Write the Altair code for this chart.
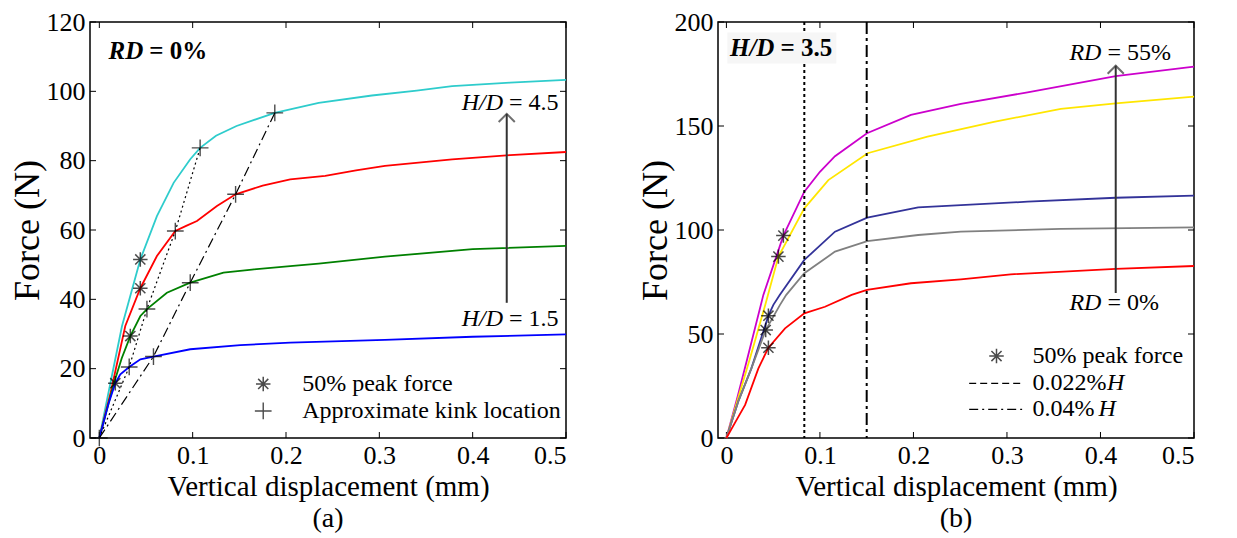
import altair as alt
import pandas as pd

FONT = "Liberation Serif"
W, H = 476, 416

# ---------------- panel (a): RD = 0% ----------------
a_x_ticks = [0, 0.1, 0.2, 0.3, 0.4, 0.5]
a_y_ticks = [0, 20, 40, 60, 80, 100, 120]

a_names = ["H/D = 4.5", "H/D = 3.5", "H/D = 2.5", "H/D = 1.5"]
a_colors = ["#2ECCCC", "#FF0000", "#008000", "#0000FF"]

cyan_x = [0, 0.006, 0.012, 0.0243, 0.0439, 0.0617, 0.0796, 0.0974, 0.108, 0.125, 0.147, 0.188, 0.235, 0.292, 0.34, 0.378, 0.44, 0.5]
cyan_y = [0, 8, 16, 32.3, 51.5, 64, 73.6, 80.4, 83.7, 87.2, 90, 93.8, 96.7, 98.8, 100.2, 101.5, 102.5, 103.3]
red_x = [0, 0.012, 0.0278, 0.0439, 0.0617, 0.0814, 0.093, 0.1046, 0.126, 0.146, 0.175, 0.2045, 0.242, 0.275, 0.306, 0.378, 0.44, 0.5]
red_y = [0, 13, 32.3, 43.2, 52.5, 59.7, 61.2, 62.6, 66.9, 70.3, 72.8, 74.6, 75.6, 77.2, 78.5, 80.4, 81.6, 82.5]
green_x = [0, 0.0153, 0.024, 0.0332, 0.044, 0.051, 0.0724, 0.0974, 0.133, 0.1635, 0.2045, 0.235, 0.306, 0.4, 0.5]
green_y = [0, 15.5, 23, 29.4, 35.2, 37.2, 41.9, 44.8, 47.7, 48.6, 49.6, 50.3, 52.3, 54.5, 55.4]
blue_x = [0, 0.01, 0.0171, 0.0225, 0.032, 0.044, 0.058, 0.0974, 0.151, 0.2045, 0.306, 0.4, 0.5]
blue_y = [0, 10, 15.8, 18.4, 20.5, 22.7, 23.5, 25.6, 26.8, 27.5, 28.3, 29.2, 29.9]

a_star_x = [0.0439, 0.0439, 0.0332, 0.0171]
a_star_y = [51.5, 43.2, 29.4, 15.8]
a_plus_x = [0.108, 0.188, 0.0814, 0.146, 0.051, 0.0974, 0.032, 0.058, 0]
a_plus_y = [83.7, 93.8, 59.7, 70.3, 37.2, 44.8, 20.5, 23.5, 0]

kink1_x = [0, 0.032, 0.051, 0.0814, 0.108]
kink1_y = [0, 20.5, 37.2, 59.7, 83.7]
kink2_x = [0, 0.058, 0.0974, 0.146, 0.188]
kink2_y = [0, 23.5, 44.8, 70.3, 93.8]

# ---------------- panel (b): H/D = 3.5 ----------------
b_x_ticks = [0, 0.1, 0.2, 0.3, 0.4, 0.5]
b_y_ticks = [0, 50, 100, 150, 200]

b_names = ["RD = 55%", "RD = 45%", "RD = 30%", "RD = 15%", "RD = 0%"]
b_colors = ["#CC00CC", "#FFE600", "#333399", "#808080", "#FF0000"]

mag_x = [0, 0.012, 0.0217, 0.0395, 0.0609, 0.0833, 0.1, 0.1161, 0.1503, 0.1973, 0.2507, 0.322, 0.4163, 0.5]
mag_y = [0, 20, 37, 68.8, 97.3, 118.4, 128, 135.5, 146.5, 155.3, 160.6, 166.2, 174, 178.5]
yel_x = [0, 0.013, 0.025, 0.0415, 0.0556, 0.0833, 0.109, 0.151, 0.215, 0.286, 0.3576, 0.4163, 0.5]
yel_y = [0, 20, 38, 64, 87.2, 110.4, 124, 136.9, 144.9, 152, 158.2, 160.9, 164.1]
navy_x = [0, 0.013, 0.0267, 0.0449, 0.0502, 0.057, 0.0833, 0.1161, 0.1506, 0.205, 0.322, 0.4163, 0.5]
navy_y = [0, 18, 33.5, 58.8, 64, 68.8, 85.6, 99.2, 105.9, 110.9, 113.6, 115.5, 116.5]
gray_x = [0, 0.013, 0.0267, 0.042, 0.0573, 0.064, 0.0833, 0.1161, 0.1506, 0.205, 0.2507, 0.3576, 0.5]
gray_y = [0, 18, 33.5, 51.9, 64, 68.8, 79.2, 89.6, 94.7, 97.6, 99.2, 100.5, 101.3]
redb_x = [0, 0.01, 0.02, 0.0342, 0.0449, 0.0627, 0.0833, 0.1054, 0.1339, 0.1503, 0.1973, 0.2507, 0.304, 0.4163, 0.5]
redb_y = [0, 8, 15.9, 33.5, 43.4, 52.7, 59.9, 63.1, 68.8, 71.2, 74.4, 76.3, 78.7, 81.3, 82.7]

b_star_x = [0.0609, 0.0556, 0.0449, 0.042, 0.0449]
b_star_y = [97.3, 87.2, 58.8, 51.9, 43.4]
b_vlines = [0.0833, 0.15]

STAR = "M0,-1L0,1M-1,0L1,0M-0.7,-0.7L0.7,0.7M-0.7,0.7L0.7,-0.7"
PLUS = "M0,-1L0,1M-1,0L1,0"
CHEVRON = "M-1,1L0,0L1,1"


def df(xs, ys, **extra):
    d = pd.DataFrame({"x": xs, "y": ys})
    for k, v in extra.items():
        d[k] = v
    return d


def encs(xdom, ydom, xt, yt):
    xe = alt.X("x:Q", scale=alt.Scale(domain=xdom, nice=False, zero=False),
               axis=alt.Axis(values=xt, format="~g", title="Vertical displacement (mm)",
                             labelPadding=4, titlePadding=4))
    ye = alt.Y("y:Q", scale=alt.Scale(domain=ydom, nice=False, zero=False),
               axis=alt.Axis(values=yt, format="d", title="Force (N)",
                             labelPadding=5, titlePadding=0))
    return xe, ye


def ticks_layers(xe, ye, xt, yt):
    tx = pd.DataFrame({"x": xt})
    ty = pd.DataFrame({"y": yt})
    L = 6
    return [
        alt.Chart(tx).mark_rule(color="black", strokeWidth=1).encode(x=xe, y=alt.value(H), y2=alt.value(H - L)),
        alt.Chart(tx).mark_rule(color="black", strokeWidth=1).encode(x=xe, y=alt.value(0), y2=alt.value(L)),
        alt.Chart(ty).mark_rule(color="black", strokeWidth=1).encode(y=ye, x=alt.value(0), x2=alt.value(L)),
        alt.Chart(ty).mark_rule(color="black", strokeWidth=1).encode(y=ye, x=alt.value(W), x2=alt.value(W - L)),
    ]


def text_layer(d, xe, ye, size=24, italic=False, bold=False, align="left", dx=0):
    props = dict(font=FONT, fontSize=size, align=align, baseline="middle", color="black")
    if italic:
        props["fontStyle"] = "italic"
    if bold:
        props["fontWeight"] = "bold"
    if dx:
        props["dx"] = dx
    return alt.Chart(d).mark_text(**props).encode(x=xe, y=ye, text="t:N")


def star_layer(d, xe, ye):
    return alt.Chart(d).mark_point(shape=STAR, size=210, filled=False, color="black",
                                   strokeWidth=1.5).encode(x=xe, y=ye)


def plus_layer(d, xe, ye):
    return alt.Chart(d).mark_point(shape=PLUS, size=280, filled=False, color="black",
                                   strokeWidth=1.4).encode(x=xe, y=ye)


# ---------------- build panel (a) ----------------
xa, ya = encs([-0.01, 0.5], [0, 120], a_x_ticks, a_y_ticks)
a_curves = pd.concat([
    df(cyan_x, cyan_y, s=a_names[0]), df(red_x, red_y, s=a_names[1]),
    df(green_x, green_y, s=a_names[2]), df(blue_x, blue_y, s=a_names[3])])

layers_a = ticks_layers(xa, ya, a_x_ticks, a_y_ticks) + [
    alt.Chart(a_curves).mark_line(strokeWidth=1.8).encode(
        x=xa, y=ya, detail="s:N",
        color=alt.Color("s:N", scale=alt.Scale(domain=a_names, range=a_colors), legend=None)),
    alt.Chart(df(kink1_x, kink1_y)).mark_line(color="black", strokeWidth=1.2, strokeDash=[2, 3]).encode(x=xa, y=ya),
    alt.Chart(df(kink2_x, kink2_y)).mark_line(color="black", strokeWidth=1.2, strokeDash=[10, 4, 2, 4]).encode(x=xa, y=ya),
    star_layer(df(a_star_x, a_star_y), xa, ya),
    plus_layer(df(a_plus_x, a_plus_y), xa, ya),
    # legend
    star_layer(df([0.1756], [15.6]), xa, ya),
    plus_layer(df([0.1756], [7.8]), xa, ya),
    text_layer(df([0.2173, 0.2173], [15.6, 7.8], t=["50% peak force", "Approximate kink location"]), xa, ya),
    # arrow
    alt.Chart(df([0.4365], [39], y2=[93.5])).mark_rule(color="#333333", strokeWidth=2).encode(x=xa, y=ya, y2="y2:Q"),
    alt.Chart(df([0.4365], [93.5])).mark_point(shape=CHEVRON, size=260, filled=False, color="#333333", strokeWidth=2).encode(x=xa, y=ya),
    # annotations
    text_layer(df([0.0471], [111.6], t=["RD"]), xa, ya, size=25, italic=True, bold=True, align="right"),
    text_layer(df([0.0471], [111.6], t=["= 0%"]), xa, ya, size=25, bold=True, dx=6),
    text_layer(df([0.4325, 0.4325], [96.6, 34.3], t=["H/D", "H/D"]), xa, ya, italic=True, align="right"),
    text_layer(df([0.4325, 0.4325], [96.6, 34.3], t=["= 4.5", "= 1.5"]), xa, ya, dx=6),
]
chart_a = alt.layer(*layers_a).properties(
    width=W, height=H,
    title=alt.TitleParams("(a)", orient="bottom", font=FONT, fontSize=28, fontWeight=400, offset=4))

# ---------------- build panel (b) ----------------
xb, yb = encs([-0.009, 0.5], [0, 200], b_x_ticks, b_y_ticks)
b_curves = pd.concat([
    df(mag_x, mag_y, s=b_names[0]), df(yel_x, yel_y, s=b_names[1]),
    df(navy_x, navy_y, s=b_names[2]), df(gray_x, gray_y, s=b_names[3]),
    df(redb_x, redb_y, s=b_names[4])])

layers_b = ticks_layers(xb, yb, b_x_ticks, b_y_ticks) + [
    alt.Chart(b_curves).mark_line(strokeWidth=1.8).encode(
        x=xb, y=yb, detail="s:N",
        color=alt.Color("s:N", scale=alt.Scale(domain=b_names, range=b_colors), legend=None)),
    alt.Chart(df([b_vlines[0]], [0])).mark_rule(color="black", strokeWidth=2, strokeDash=[3, 3]).encode(x=xb),
    alt.Chart(df([b_vlines[1]], [0])).mark_rule(color="black", strokeWidth=2, strokeDash=[12, 4, 3, 4]).encode(x=xb),
    star_layer(df(b_star_x, b_star_y), xb, yb),
    # legend
    star_layer(df([0.2888], [39.4]), xb, yb),
    alt.Chart(df([0.2596], [26.3], x2=[0.3162])).mark_rule(color="black", strokeWidth=1.3, strokeDash=[7, 4]).encode(x=xb, x2="x2:Q", y=yb),
    alt.Chart(df([0.2596], [13.8], x2=[0.3162])).mark_rule(color="black", strokeWidth=1.3, strokeDash=[9, 4, 2, 4]).encode(x=xb, x2="x2:Q", y=yb),
    text_layer(df([0.3273, 0.3273, 0.3273], [39.4, 26.3, 13.8], t=["50% peak force", "0.022%", "0.04%"]), xb, yb),
    text_layer(df([0.407, 0.398], [26.3, 13.8], t=["H", "H"]), xb, yb, italic=True),
    # arrow
    alt.Chart(df([0.4163], [69.7], y2=[179])).mark_rule(color="#333333", strokeWidth=2).encode(x=xb, y=yb, y2="y2:Q"),
    alt.Chart(df([0.4163], [179])).mark_point(shape=CHEVRON, size=260, filled=False, color="#333333", strokeWidth=2).encode(x=xb, y=yb),
    # annotations
    alt.Chart(df([0.001], [180], x2=[0.1175], y2=[195])).mark_rect(color="#f6f6f6").encode(x=xb, x2="x2:Q", y=yb, y2="y2:Q"),
    text_layer(df([0.0513], [187.5], t=["H/D"]), xb, yb, size=25, italic=True, bold=True, align="right"),
    text_layer(df([0.0513], [187.5], t=["= 3.5"]), xb, yb, size=25, bold=True, dx=6),
    text_layer(df([0.401, 0.401], [185, 64.9], t=["RD", "RD"]), xb, yb, italic=True, align="right"),
    text_layer(df([0.401, 0.401], [185, 64.9], t=["= 55%", "= 0%"]), xb, yb, dx=6),
]
chart_b = alt.layer(*layers_b).properties(
    width=W, height=H,
    title=alt.TitleParams("(b)", orient="bottom", font=FONT, fontSize=28, fontWeight=400, offset=4))

chart = alt.hconcat(chart_a, chart_b, spacing=65).resolve_scale(
    color="independent"
).properties(
    padding={"left": 0, "top": 0, "right": 0, "bottom": 0}
).configure_view(
    stroke="black", strokeWidth=1.5
).configure_axis(
    labelFont=FONT, labelFontSize=26, labelColor="black",
    titleFont=FONT, titleFontSize=29, titleFontWeight=400, titleColor="black",
    domain=False, ticks=False, grid=False
).configure_axisY(titleFontSize=36)

chart.save("out.html", embed_options={"renderer": "svg", "actions": False})
